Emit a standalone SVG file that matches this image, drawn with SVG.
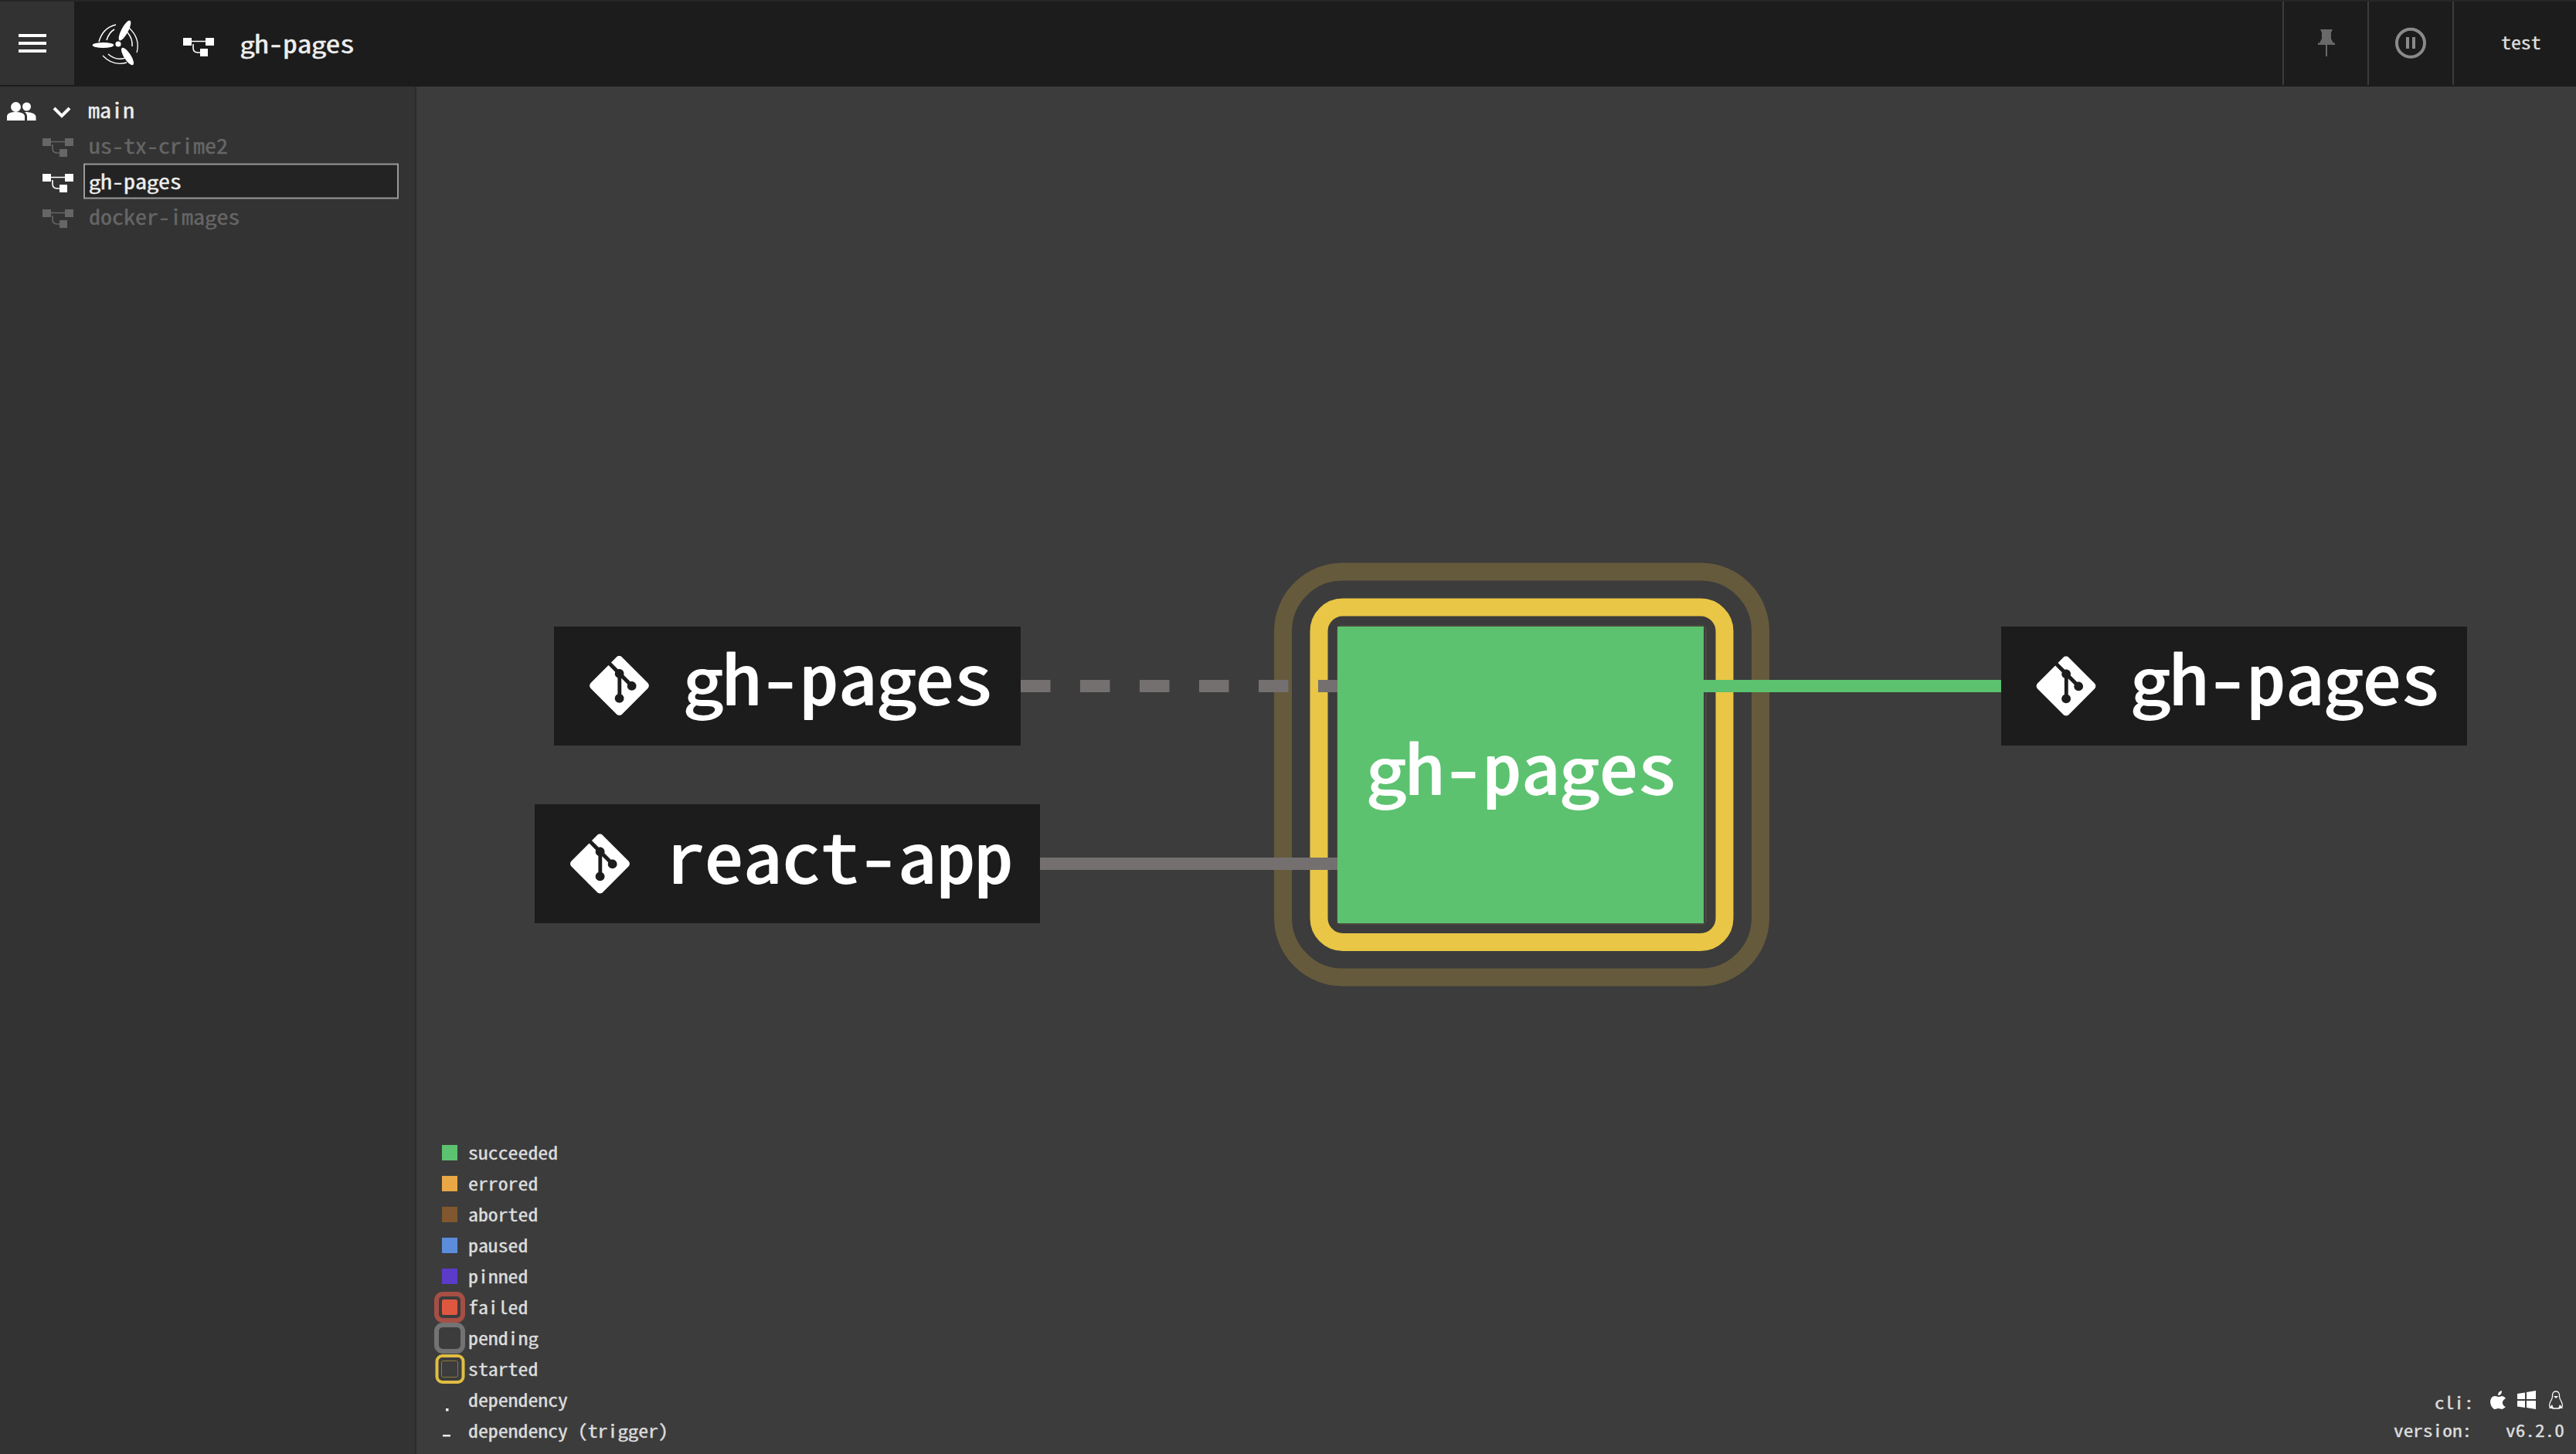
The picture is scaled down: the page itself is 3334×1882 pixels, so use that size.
<svg xmlns="http://www.w3.org/2000/svg" width="3334" height="1882" viewBox="0 0 3334 1882">
<style>
text{font-family:"Noto Sans Mono CJK SC","Noto Sans Mono CJK JP","DejaVu Sans Mono",monospace;white-space:pre;stroke-linejoin:round}
.g{font-family:"Noto Sans CJK SC","Noto Sans",sans-serif;font-size:.92em;font-weight:400}
.node{fill:#1c1c1c}
.big{font-size:100px;fill:#fff;stroke:#fff;stroke-width:2;text-anchor:middle}
.hd{font-size:37px;fill:#eee;stroke:#eee;stroke-width:.6;text-anchor:middle}
.sd{font-size:30px;fill:#eee;stroke:#eee;stroke-width:.4;text-anchor:middle}
.leg{font-size:25.800px;fill:#ddd;stroke:#ddd;stroke-width:.4}
.side{font-size:30px;fill:#eee;stroke:#eee;stroke-width:.4}
.side.dim{fill:#666;stroke:#666}
.br{font-size:25.300px;fill:#ddd;stroke:#ddd;stroke-width:.4}
.conn{stroke-width:16;fill:none}
</style>
<defs>
<path id="git" d="M23.546 10.93L13.067.452c-.604-.603-1.582-.603-2.188 0L8.708 2.627l2.76 2.76c.645-.215 1.379-.07 1.889.441.516.515.658 1.258.438 1.9l2.658 2.66c.645-.223 1.387-.078 1.9.435.721.72.721 1.884 0 2.604-.719.719-1.881.719-2.6 0-.539-.541-.674-1.337-.404-1.996L12.86 8.955v6.525c.176.086.342.203.488.348.713.721.713 1.883 0 2.6-.719.721-1.889.721-2.609 0-.719-.719-.719-1.879 0-2.598.182-.18.387-.316.605-.406V8.835c-.217-.091-.424-.222-.6-.401-.545-.545-.676-1.342-.396-2.009L7.636 3.7.45 10.881c-.6.605-.6 1.584 0 2.189l10.48 10.477c.604.604 1.582.604 2.186 0l10.43-10.43c.605-.603.605-1.582 0-2.187" fill="#fff" transform="scale(3.2) translate(-12 -12)"/>
<g id="wf"><rect x="0" y="0" width="11" height="10"/><rect x="29" y="0" width="11" height="10"/><rect x="22" y="14" width="10" height="10"/><path d="M10 4.500H30M13 8V13Q13 19 19 19H23" fill="none" stroke="currentColor" stroke-width="1.600"/></g>
</defs>
<rect width="3334" height="1882" fill="#3c3c3c"/>
<g id="header">
<rect width="3334" height="112" fill="#1c1c1c"/>
<rect width="3334" height="2" fill="#262626"/>
<rect y="2" width="96" height="108" fill="#323232"/>
<g fill="#fff"><rect x="24" y="44" width="36" height="4"/><rect x="24" y="54" width="36" height="4"/><rect x="24" y="64" width="36" height="4"/></g>
<g id="logo" fill="#fff">
<circle cx="153" cy="57" r="3.600"/>
<ellipse cx="133.500" cy="58.500" rx="13.800" ry="3.400"/>
<ellipse cx="161.500" cy="39.500" rx="14.500" ry="4.400" transform="rotate(-62 161.500 39.500)"/>
<ellipse cx="165" cy="73" rx="13" ry="4.400" transform="rotate(57 165 73)"/>
<g fill="none" stroke="#fff">
<path d="M128 54Q133 36 150 32" stroke-width="1.500"/><path d="M138 52Q141 42 148 38" stroke-width="1.500"/>
<path d="M167 36Q182 50 177 68" stroke-width="1.300"/><path d="M165 42Q172 50 171 60" stroke-width="1.500"/>
<path d="M133 72Q146 86 164 81" stroke-width="1.300"/><path d="M140 70Q150 79 162 75" stroke-width="1.500"/>
</g>
</g>
<g transform="translate(237 49)" fill="#fff" color="#fff"><use href="#wf"/></g>
<text class="hd" transform="translate(0 69) scale(1 .88)" x="320 338.500 357 375.500 394 412.500 431 449.500"><tspan class="g">g</tspan>h-pa<tspan class="g">g</tspan>es</text>
<g stroke="#3c3c3c" stroke-width="2"><path d="M2955 2V110M3065 2V110M3175 2V110"/></g>
<g id="pin" fill="#696969"><path d="M3003 38H3019L3017 42V50L3020 56H3002L3005 50V42Z"/><rect x="3000" y="55.500" width="22" height="2.500"/><rect x="3010" y="57" width="2" height="16"/></g>
<g id="pause"><circle cx="3120" cy="55.700" r="18" fill="none" stroke="#8a8a8a" stroke-width="4"/><rect x="3114" y="48" width="4" height="15" fill="#8a8a8a"/><rect x="3122" y="48" width="4" height="15" fill="#8a8a8a"/></g>
<text class="leg" transform="translate(0 64) scale(1 .88)" x="3237">test</text>
</g>
<g id="sidebar">
<rect y="112" width="537" height="1770" fill="#333"/>
<rect x="537" y="112" width="2" height="1770" fill="#2b2b2b"/>
<path d="M9 156V150Q10 145 20 145Q31 145 32 150V156ZM35 145Q46 146 46.500 151V156H35V150Q35 147 32 145Z" fill="#fff"/>
<circle cx="20.500" cy="138.500" r="6.500" fill="#fff"/><circle cx="34.500" cy="138" r="5.500" fill="#fff"/>
<path d="M70 140L80 150L90 140" fill="none" stroke="#fff" stroke-width="4"/>
<text class="side" transform="translate(0 153) scale(1 .88)" x="114">main</text>
<g transform="translate(55 179)" fill="#666" color="#666"><use href="#wf"/></g>
<text class="side dim" transform="translate(0 199) scale(1 .88)" x="115">us-tx-crime2</text>
<rect x="109" y="212.500" width="406" height="44" fill="#232323" stroke="#999" stroke-width="2"/>
<g transform="translate(55 225)" fill="#fff" color="#fff"><use href="#wf"/></g>
<text class="sd" transform="translate(0 245) scale(1 .88)" x="122.500 137.500 152.500 167.500 182.500 197.500 212.500 227.500"><tspan class="g">g</tspan>h-pa<tspan class="g">g</tspan>es</text>
<g transform="translate(55 271)" fill="#666" color="#666"><use href="#wf"/></g>
<text class="side dim" transform="translate(0 291) scale(1 .88)" x="115">docker-ima<tspan class="g">g</tspan>es</text>
</g>
<g id="legend">
<rect x="572" y="1482" width="20" height="20" fill="#5cc26f"/><text class="leg" transform="translate(0 1501) scale(1 .88)" x="606">succeeded</text>
<rect x="572" y="1522" width="20" height="20" fill="#e9a845"/><text class="leg" transform="translate(0 1541) scale(1 .88)" x="606">errored</text>
<rect x="572" y="1562" width="20" height="20" fill="#80572f"/><text class="leg" transform="translate(0 1581) scale(1 .88)" x="606">aborted</text>
<rect x="572" y="1602" width="20" height="20" fill="#5b8ddb"/><text class="leg" transform="translate(0 1621) scale(1 .88)" x="606">paused</text>
<rect x="572" y="1642" width="20" height="20" fill="#5a3cc8"/><text class="leg" transform="translate(0 1661) scale(1 .88)" x="606">pinned</text>
<rect x="565" y="1675" width="34" height="34" rx="8" fill="none" stroke="#a64f45" stroke-width="6"/><rect x="572" y="1682" width="20" height="20" rx="2" fill="#e0573f"/><text class="leg" transform="translate(0 1701) scale(1 .88)" x="606">failed</text>
<rect x="565" y="1715" width="34" height="34" rx="8" fill="none" stroke="#737373" stroke-width="6"/><text class="leg" transform="translate(0 1741) scale(1 .88)" x="606">pendin<tspan class="g">g</tspan></text>
<rect x="565.500" y="1755" width="34" height="34" rx="7" fill="none" stroke="#e0bd42" stroke-width="4"/><rect x="571.500" y="1761.500" width="21" height="21" rx="2" fill="none" stroke="#8a7a3c" stroke-width="1"/><text class="leg" transform="translate(0 1781) scale(1 .88)" x="606">started</text>
<rect x="577" y="1823" width="3.500" height="3.500" fill="#eee"/><text class="leg" transform="translate(0 1821) scale(1 .88)" x="606">dependency</text>
<rect x="573" y="1857" width="10" height="2.500" fill="#eee"/><text class="leg" transform="translate(0 1861) scale(1 .88)" x="606">dependency (tri<tspan class="g">gg</tspan>er)</text>
</g>
<g id="platform">
<text class="br" transform="translate(0 1824) scale(1 .88)" x="3151">cli:</text>
<text class="br" transform="translate(0 1860) scale(1 .88)" x="3098">version:</text>
<text class="br" transform="translate(0 1860) scale(1 .88)" x="3243">v6.2.0</text>
<path d="M3233 1806Q3233 1801 3238 1800Q3238 1806 3233 1806ZM3233 1808Q3236 1808 3238 1807Q3241 1807 3243 1810Q3238 1813 3239 1817Q3240 1820 3243 1821Q3240 1824 3238 1824Q3235 1823 3233 1823Q3230 1824 3228 1824Q3223 1820 3223 1814Q3224 1807 3229 1807Q3231 1807 3233 1808Z" fill="#fff"/>
<path d="M3258 1804L3268 1802.500V1811H3258ZM3270 1802L3282 1800V1811H3270ZM3258 1813H3268V1822L3258 1820.500ZM3270 1813H3282V1824L3270 1822Z" fill="#fff"/>
<path d="M3308 1801Q3313 1801 3312.500 1808Q3313 1811 3315 1814Q3317 1818 3316 1821L3312 1823H3304L3300 1821Q3299 1818 3301 1814Q3303 1811 3303.500 1808Q3303 1801 3308 1801Z" fill="none" stroke="#fff" stroke-width="1.300"/>
<path d="M3305 1807H3311L3308 1810Z" fill="#fff"/><path d="M3299 1823L3303 1818L3305 1823ZM3311 1823L3313 1818L3317 1823Z" fill="#fff"/>
</g>
<g id="node-center">
<rect x="1660.500" y="740" width="618" height="525" rx="77" fill="none" stroke="#655a3c" stroke-width="23"/>
<rect x="1707" y="786" width="525" height="433.500" rx="31" fill="none" stroke="#e9c645" stroke-width="23"/>
<rect x="1731" y="810" width="477" height="386" rx="5" fill="none" stroke="#5e5a42" stroke-width="1"/>
</g>
<g id="connectors">
<path class="conn" d="M1321 888H1731" stroke="#757070" stroke-dasharray="38.500 38.500"/>
<path class="conn" d="M1346 1118H1731" stroke="#757070"/>
<path class="conn" d="M2205 888H2590" stroke="#5cc26f"/>
</g>
<g id="node-center-body">
<rect x="1731" y="811" width="474" height="384" fill="#5cc26f"/>
<text class="big" transform="translate(0 1028) scale(1 .88)" x="1794 1844 1894 1944 1994 2044 2095 2145"><tspan class="g">g</tspan>h-pa<tspan class="g">g</tspan>es</text>
</g>
<g id="node-gh-pages-in">
<rect class="node" x="717" y="811" width="604" height="154"/>
<use href="#git" transform="translate(801.500 887.500)"/>
<text class="big" transform="translate(0 912) scale(1 .88)" x="910 960 1010 1060 1110 1160 1210 1260"><tspan class="g">g</tspan>h-pa<tspan class="g">g</tspan>es</text>
</g>
<g id="node-react-app">
<rect class="node" x="692" y="1041" width="654" height="154"/>
<use href="#git" transform="translate(776.500 1118)"/>
<text class="big" transform="translate(0 1143) scale(1 .88)" x="887 937 987 1037 1087 1137 1187 1237 1286">react-app</text>
</g>
<g id="node-gh-pages-out">
<rect class="node" x="2590" y="811" width="603" height="154"/>
<use href="#git" transform="translate(2674 888)"/>
<text class="big" transform="translate(0 912) scale(1 .88)" x="2783 2833 2883 2933 2983 3033 3083 3133"><tspan class="g">g</tspan>h-pa<tspan class="g">g</tspan>es</text>
</g>
</svg>
